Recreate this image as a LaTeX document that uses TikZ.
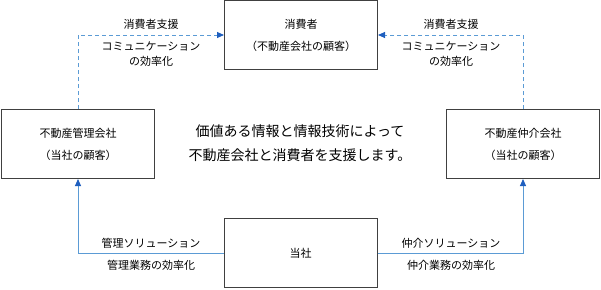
\documentclass[tikz,border=0pt]{standalone}
\usepackage{fontspec}
\setmainfont{Noto Sans CJK JP}
\usetikzlibrary{arrows.meta}
\definecolor{linkblue}{HTML}{5B9BD5}
\definecolor{tipblue}{HTML}{1F5FBF}
\definecolor{boxgray}{HTML}{404040}
\begin{document}
\begin{tikzpicture}[x=1pt,y=-1pt,
  entity/.style={draw=boxgray,line width=1pt,minimum width=153pt,minimum height=69pt,
    inner sep=0pt,align=center,font=\fontsize{11}{22}\selectfont},
  lbl/.style={align=center,inner sep=0pt,font=\fontsize{11}{15}\selectfont},
  flow/.style={draw=linkblue,line width=0.9pt,-{Triangle[width=6pt,length=7pt,color=tipblue]}},
  dflow/.style={flow,dash pattern=on 4pt off 3pt}]
\useasboundingbox (0,0) rectangle (601,289);
\node[entity] (cons) at (301,35) {消費者\\（不動産会社の顧客）};
\node[entity] (mgmt) at (78,144) {不動産管理会社\\（当社の顧客）};
\node[entity] (brok) at (523,144) {不動産仲介会社\\（当社の顧客）};
\node[entity] (self) at (300.5,253) {当社};
\node[align=center,inner sep=0pt,font=\fontsize{14}{24}\selectfont] (msg) at (300,143.5)
  {価値ある情報と情報技術によって\\不動産会社と消費者を支援します。};
\draw[dflow] (mgmt.north) |- (cons.west);
\draw[dflow] (brok.north) |- (cons.east);
\draw[flow] (self.west) -| (mgmt.south);
\draw[flow] (self.east) -| (brok.south);
\node[lbl] (l1) at (151,24) {消費者支援};
\node[lbl] (l2) at (151,54.5) {コミュニケーション\\の効率化};
\node[lbl] (r1) at (451,24) {消費者支援};
\node[lbl] (r2) at (451,54.5) {コミュニケーション\\の効率化};
\node[lbl] (l3) at (151,243) {管理ソリューション};
\node[lbl] (l4) at (151,265) {管理業務の効率化};
\node[lbl] (r3) at (451,243) {仲介ソリューション};
\node[lbl] (r4) at (451,265) {仲介業務の効率化};
\end{tikzpicture}
\end{document}
